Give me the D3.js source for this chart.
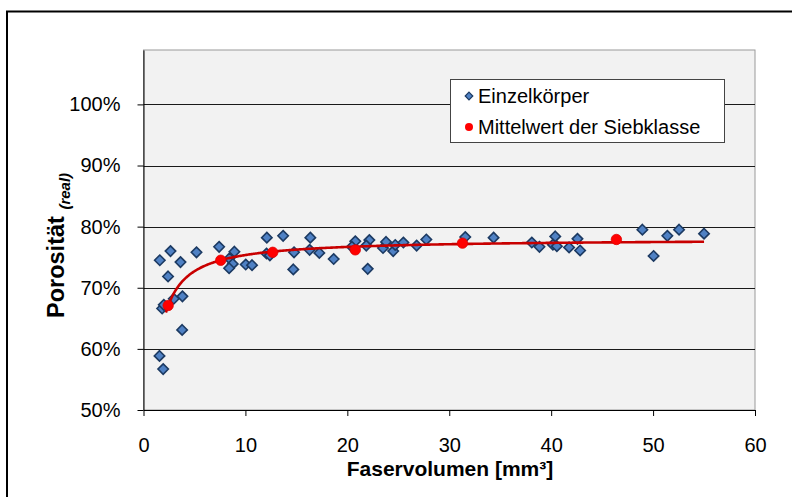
<!DOCTYPE html>
<html><head><meta charset="utf-8">
<script src="https://cdn.jsdelivr.net/npm/d3@7"></script>
<style>
html,body{margin:0;padding:0;background:#fff;}
svg{display:block;font-family:"Liberation Sans",Arial,sans-serif;}
</style></head>
<body>
<svg id="chart" width="792" height="497"></svg>
<script>
// ---- data ----
const bodyX = [2.41,3.82,2.97,1.83,1.99,3.79,1.57,1.93,
  1.60,2.65,3.63,5.2,7.42,8.43,8.92,8.76,8.4,10.03,10.65,12.1,12.07,12.4,13.7,14.77,14.7,16.37,16.3,17.25,
  18.66,20.78,20.45,22.16,21.86,22.0,23.5,23.8,24.5,24.7,25.5,26.8,27.75,31.57,34.35,
  38.1,38.85,40.4,40.17,40.56,41.76,42.58,42.84,48.95,50.05,51.4,52.55,55.0];
const bodyY = [71.85,68.6,68.2,66.6,67.2,63.1,58.85,56.7,
  74.5,76.0,74.2,75.8,76.7,74.8,75.9,73.9,73.2,73.8,73.7,78.2,75.6,75.3,78.5,75.8,73.0,78.2,76.2,75.7,
  74.7,77.6,76.7,77.8,76.9,73.1,76.5,77.5,76.0,77.0,77.4,76.9,77.9,78.3,78.2,
  77.4,76.7,78.4,77.05,76.8,76.6,78.0,76.1,79.5,75.2,78.5,79.5,78.85];
const meanX = [2.42,7.58,12.68,20.78,31.3,46.4];
const meanY = [67.1,74.5,75.8,76.2,77.3,77.9];
const trendRange = [2.2, 55];
const xTicks = [0,10,20,30,40,50,60];
const yTicks = [50,60,70,80,90,100];
const gridVals = [60,70,80,90,100];
const legendLabels = ["Einzelkörper","Mittelwert der Siebklasse"];

// ---- layout ----
const svg = d3.select("#chart");
const L = 143.5, R = 755, T = 50, B = 410;
const x = d3.scaleLinear().domain([0,60]).range([L,R]);
const y = d3.scaleLinear().domain([50,108.9]).range([B,T]);

// outer frame
svg.append("path").attr("d","M7,497 V11.5 H792").attr("fill","none").attr("stroke","#000").attr("stroke-width",2);

// plot area
svg.append("rect").attr("x",L).attr("y",T).attr("width",R-L).attr("height",B-T)
  .attr("fill","#f2f2f2").attr("stroke","#9a9a9a").attr("stroke-width",1);

// gridlines
svg.append("g").selectAll("line").data(gridVals).join("line")
  .attr("x1",L).attr("x2",R).attr("y1",d=>Math.round(y(d))+0.5).attr("y2",d=>Math.round(y(d))+0.5)
  .attr("stroke","#1a1a1a").attr("stroke-width",1);

// axes
const yAxis = d3.axisLeft(y).tickValues(yTicks).tickSize(6).tickSizeOuter(0).tickFormat(d=>d+"%").tickPadding(17);
const gy = svg.append("g").attr("transform",`translate(${L},0)`).call(yAxis);
gy.select(".domain").attr("stroke","#000");
gy.selectAll(".tick line").attr("stroke","#000");
gy.selectAll("text").attr("font-size",20).attr("fill","#000").attr("font-family","Liberation Sans, Arial, sans-serif");

const xAxis = d3.axisBottom(x).tickValues(xTicks).tickSize(6).tickSizeOuter(0).tickPadding(22);
const gx = svg.append("g").attr("transform",`translate(0,${B})`).call(xAxis);
gx.select(".domain").attr("stroke","#000");
gx.selectAll(".tick line").attr("stroke","#000");
gx.selectAll("text").attr("font-size",20).attr("fill","#000").attr("font-family","Liberation Sans, Arial, sans-serif");

// axis titles
svg.append("text").attr("x",450).attr("y",476).attr("text-anchor","middle")
  .attr("font-size",21).attr("font-weight","bold").text("Faservolumen [mm³]");
const yt = svg.append("text").attr("transform","translate(64,318) rotate(-90)")
  .attr("font-size",23.5).attr("font-weight","bold");
yt.append("tspan").text("Porosität ");
yt.append("tspan").attr("font-size",15).attr("font-style","italic").attr("dy",6).text("(real)");

// trendline: least squares fit y = a + b/x on class means
const u = meanX.map(v=>1/v);
const mu = d3.mean(u), my = d3.mean(meanY);
const b = d3.sum(u.map((v,i)=>(v-mu)*(meanY[i]-my))) / d3.sum(u.map(v=>(v-mu)*(v-mu)));
const a = my - b*mu;
const tx = d3.range(trendRange[0], trendRange[1]+0.001, 0.1);
const line = d3.line().x(d=>x(d)).y(d=>y(a + b/d)).curve(d3.curveLinear);

// diamonds
const diamond = (s)=>`M0,${-s}L${s},0L0,${s}L${-s},0Z`;
svg.append("g").selectAll("path").data(bodyX.map((v,i)=>[v,bodyY[i]])).join("path")
  .attr("d",diamond(5.2))
  .attr("transform",d=>`translate(${x(d[0])},${y(d[1])})`)
  .attr("fill","#4f81c4").attr("stroke","#1c3a62").attr("stroke-width",1.6);

svg.append("path").datum(tx).attr("d",line).attr("fill","none")
  .attr("stroke","#c80000").attr("stroke-width",2.6);

svg.append("g").selectAll("circle").data(meanX.map((v,i)=>[v,meanY[i]])).join("circle")
  .attr("cx",d=>x(d[0])).attr("cy",d=>y(d[1])).attr("r",5.2)
  .attr("fill","#ff0000").attr("stroke","#e00000").attr("stroke-width",0.8);

// legend
const lg = svg.append("g");
lg.append("rect").attr("x",450.5).attr("y",79.5).attr("width",274).attr("height",63)
  .attr("fill","#fff").attr("stroke","#444").attr("stroke-width",1);
lg.append("path").attr("d",diamond(3.8)).attr("transform","translate(469,96)")
  .attr("fill","#4f81c4").attr("stroke","#1c3a62").attr("stroke-width",1.2);
lg.append("circle").attr("cx",469).attr("cy",127).attr("r",4).attr("fill","#ff0000");
lg.selectAll("text").data(legendLabels).join("text")
  .attr("x",478).attr("y",(d,i)=>103+i*31).attr("font-size",20).attr("fill","#000").text(d=>d);
</script>
</body></html>
